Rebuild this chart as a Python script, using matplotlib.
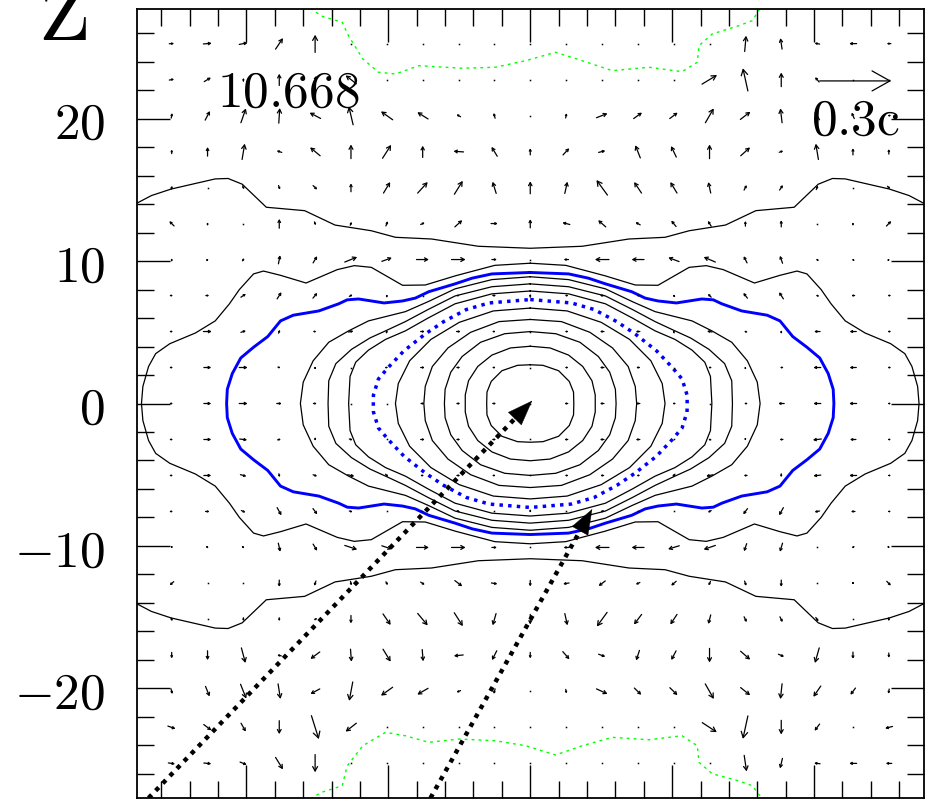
import numpy as np
import matplotlib
matplotlib.use("Agg")
import matplotlib.pyplot as plt

plt.rcParams["mathtext.fontset"] = "cm"

# velocity field on a 21 x 21 grid, rows from top (z = +25.3) to bottom (z = -25.3),
# columns from x = -25.3 to +25.3; components in units of 0.01c
VX = [
    [2.0, 3.5, 3.5, 3.1, 0, 0, 0, 0, 0, 0, 0, 0, 0, 0, 0, 0, 0.6, -0.7, -2.1, -3.1, -1.7],
    [2.0, 2.8, 0, 0, 1.1, -4.5, 0, 0, 0, 0, 0, 0, 0, 0, 0, 6.3, -2.1, 0, -1.7, 0, 0],
    [0.4, 2.0, 2.1, 0.4, -4.6, -1.8, -4.9, -4.5, -1.7, -0.6, 0, 0.4, 4.6, 3.5, 3.3, 3.5, 4.2, -0.7, -2.0, -1.1, -1.1],
    [0, 0, 1.1, -2.1, -4.2, 0, 3.6, 0, -4.2, -2.4, 0, 2.6, 2.8, -2.1, -2.2, 0, 3.9, 1.7, -1.1, 0, 0],
    [0.6, 0, 0.7, 0.6, 1.7, 0, 2.8, 4.2, 3.5, -1.5, 0, 1.1, -4.6, -3.1, -2.8, -1.0, 1.1, 1.4, 0.7, 0, 1.1],
    [-2.0, 0, 0, 0, 0.6, 0.6, 0.8, 1.7, 3.1, 2.8, 0, -3.1, -3.2, -2.0, -2.0, -1.4, 0, 0, 0, 0, 2.0],
    [0, 0.7, 0.8, 0.7, 1.7, 5.2, 4.2, 5.2, 5.9, 2.1, 0, -2.0, -5.9, -5.2, -4.5, -4.9, -1.4, -1.1, -0.8, -0.7, 0.6],
    [1.1, 1.4, 2.1, 1.8, 1.8, 1.4, 0, 0, 0.8, 1.4, 0, -1.1, -1.7, -1.1, -0.8, -1.4, -1.7, -1.8, -1.1, -1.4, -1.1],
    [1.1, 3.5, 2.1, 0.6, 1.1, 2.1, 0.4, 1.7, 1.7, 1.1, 0, -1.1, -1.7, -1.7, -0.4, -2.1, -1.1, 0, -2.5, -2.8, -1.1],
    [1.1, 3.1, 3.5, 1.1, 0, 0, 0.8, 1.7, 1.4, 1.1, 0, -1.1, -1.7, -1.4, 0, -1.1, 0, -1.1, -3.1, -2.8, -1.1],
    [1.1, 3.1, 3.5, 2.1, 1.4, 0, 0, 1.4, 1.4, 1.4, 0, -1.4, -1.7, -1.7, -1.1, 0, -1.1, -2.5, -3.1, -3.1, -0.8],
    [1.1, 3.1, 3.1, 1.4, 0, 1.4, 0, 1.7, 1.4, 1.4, 0, -1.4, -1.7, -1.7, 0, -1.1, 0, -1.4, -3.5, -2.5, -0.8],
    [1.1, 3.1, 2.5, 0.3, 1.7, 2.8, 1.1, 1.1, 1.4, 1.1, 0, -1.1, -1.4, -1.1, -1.1, -2.8, -1.4, 0, -3.1, -3.1, -0.8],
    [1.1, 1.7, 1.7, 1.8, 1.8, 1.4, 0, 0.8, 1.1, 0, 0, 0, -1.1, 0, 0, -1.4, -1.8, -1.8, -2.1, -1.7, -0.8],
    [0, 0.8, 0.8, 0.8, 1.7, 5.2, 4.2, 5.2, 5.9, 2.1, 0, -2.1, -5.9, -5.2, -4.7, -4.9, -1.1, -1.1, -0.6, -0.8, 0.6],
    [-1.7, 0, 0, 0, -0.7, 0.4, 0.8, 1.7, 3.1, 2.5, 0, -2.5, -2.8, -1.7, -2.1, -0.8, 0.7, 0, 0, 0, 1.7],
    [0.6, 0, 0, 0, -1.1, 0, 3.2, 4.2, 3.6, -1.4, 0, 1.1, -4.3, -3.2, -2.8, -1.0, 1.1, 1.1, 1.1, 0, 0],
    [0, 0, 1.7, -1.7, -3.9, 0.4, 3.2, 0.4, -3.9, -2.0, 0, 2.8, 2.8, -1.4, -2.0, 0, 4.0, 2.4, -1.8, 0, 0],
    [0.6, 1.7, 2.4, 1.0, -3.9, -1.5, -4.9, -4.5, -1.7, -0.6, 0.6, 0.3, 4.6, 2.9, 3.2, 3.6, 4.0, -0.7, -3.1, -2.1, -0.3],
    [3.2, 3.2, 2.0, 0, 3.1, -4.5, 0, 0, 0, 0, 0, 0, 0, 0, 0, 6.1, -2.1, 0, -2.1, 0, -3.1],
    [2.8, 3.1, 2.8, 3.1, 0, 0, 0, 0, 0, 0, 0, 0, 0, 0, 0, 0, 1.0, -1.0, -2.5, -3.1, -2.5],
]
VZ = [
    [0.1, 0.3, 0.7, 4.6, 7.4, 0, 0, 0, 0, 0, 0, 0, 0, 0, 0, 0, 6.6, 4.6, 0.4, 0, 0],
    [0.4, 1.7, 1.4, 4.9, 3.1, 3.5, 0, 0, 0, 0, 0, 0, 0, 0, 0, 3.8, 9.5, 5.9, 2.0, 0, 0],
    [2.1, 3.8, 6.0, 6.3, 2.4, 7.7, 3.5, 2.8, 1.0, 2.2, 0, 2.0, 1.8, 2.5, 2.5, 6.0, 3.2, 6.0, 3.5, 2.5, 0],
    [1.7, 3.8, 6.6, 0.7, 3.5, 5.9, 5.6, 4.9, 0.3, 3.9, 2.8, 2.8, 0.7, 5.3, 4.6, 5.9, 3.5, 0.6, 6.6, 2.8, 2.1],
    [1.4, 0, -1.4, -1.7, -1.7, 3.5, 4.6, 4.6, 5.6, 4.9, 5.2, 4.9, 6.3, 4.6, 4.6, 4.6, 2.1, 2.1, 1.7, 0, -1.1],
    [2.0, 1.1, 0, 3.9, -1.4, 1.4, 2.0, 0.8, 2.8, 0, 3.6, 0.8, 2.8, 1.1, 2.5, 2.2, 2.2, 2.8, 0, 1.1, 2.1],
    [1.1, 0.8, 1.1, 3.6, 2.8, 2.1, 1.5, 0, 0, 0, 0, 0, 0, 0, 1.7, 2.1, 2.8, 3.1, 0.8, 0.7, 0.7],
    [0, 0, 1.4, 2.8, 2.2, 0.7, 1.1, 0, 0, 0, 1.4, 0, 0, 0, 0.8, 1.4, 2.2, 2.8, 0.4, 0, 0],
    [0, 0, 0.7, 1.4, 0, 0.4, 1.1, 0, 0, 0, 0, 0, 0, 0, 1.1, 0.4, 0.4, 1.1, 0, 0, 0],
    [0, 0, 0, -0.3, 0.8, 0, 0, 0, 0, 0, 0, 0, 0, 0, 0, 0, 0.8, 0, 0, 0, 0],
    [0, 0, 0, 0, 0, 0, 0, 0, 0, 0, 0, 0, 0, 0, 0, 0, 0, 0, 0, 0, 0],
    [0, 0, -0.4, 0.3, -1.1, -0.4, 0, 0, 0, 0, 0, 0, 0, 0, 0, 0.3, -0.8, 0, -0.4, 0, 0],
    [0, 0, -0.7, -1.4, -0.6, -0.6, -1.1, 0, 0, 0, 0, 0, 0, 0, -1.1, -0.6, 0, -1.4, -0.3, 0, 0],
    [0, 0, -0.8, -3.2, -2.4, -0.4, 0, 0, -0.7, 0, -1.1, 0, -0.7, 0, 0, -0.8, -2.4, -3.2, -0.4, 0, 0],
    [-0.7, -0.8, -0.8, -3.6, -2.8, -1.7, -1.4, 0, 0, 0, 0, 0, 0, 0, -1.4, -1.7, -3.2, -3.6, 0, -0.8, -0.8],
    [-1.5, 0, 0, -2.8, -2.0, -1.7, -1.4, -1.1, -2.4, -0.4, -2.5, -0.4, -2.1, -0.8, -1.8, -1.7, -2.0, -2.8, 0, -0.8, -1.8],
    [-1.4, 0, -1.4, -1.4, -0.6, -3.3, -4.6, -5.0, -5.6, -4.9, -4.2, -4.9, -5.9, -4.2, -4.2, -3.8, -2.2, -2.2, -1.7, 0, -1.4],
    [-2.5, -3.9, -6.3, 0.4, -2.9, -5.2, -5.2, -4.9, -0.4, -3.9, -2.5, -3.2, -1.0, -4.2, -3.8, -5.9, -3.5, -1.0, -6.3, -2.8, -2.0],
    [-2.2, -4.2, -6.0, -6.3, -2.1, -7.9, -3.5, -2.6, -0.7, -2.1, 0, -1.7, -2.1, -2.8, -3.1, -6.3, -3.2, -6.4, -4.5, -2.8, -2.0],
    [-1.1, -2.4, -3.5, -5.6, -9.8, -3.5, 0, 0, 0, 0, 0, 0, 0, 0, 0, -4.0, -9.6, -5.9, -2.8, 0, -0.8],
    [-0.4, -0.3, -1.1, -5.0, -7.4, 0, 0, 0, 0, 0, 0, 0, 0, 0, 0, 0, -6.7, -4.2, 0.3, 0, 0],
]
GRID = np.linspace(-25.27, 25.27, 21)

# density contours, upper-right quarter from the z axis down to the x axis
C1 = [(0, 2.72), (0.9, 2.68), (2.0, 2.3), (2.75, 1.55), (3.05, 0.8), (3.07, 0)]
C2 = [(0, 4.02), (1.4, 3.9), (2.7, 3.4), (3.7, 2.6), (4.35, 1.6), (4.58, 0.6), (4.58, 0)]
C3 = [(0, 5.05), (1.8, 4.9), (3.5, 4.3), (4.8, 3.3), (5.6, 2.2), (6.0, 1.0), (6.05, 0)]
C4 = [(0, 5.9), (2.2, 5.75), (4.2, 5.0), (5.8, 3.9), (6.9, 2.6), (7.4, 1.2), (7.5, 0)]
C5 = [(0, 6.7), (2.6, 6.5), (5.0, 5.7), (7.0, 4.5), (8.5, 3.0), (9.3, 1.4), (9.5, 0)]
C6 = [(0, 7.9), (2.7, 7.7), (5.3, 7.0), (7.2, 6.0), (8.8, 5.1), (10.2, 4.5), (11.4, 3.75),
      (12.3, 2.9), (12.7, 1.9), (12.8, 0)]
C7 = [(0, 8.4), (2.7, 8.2), (5.3, 7.55), (7.2, 6.6), (8.8, 5.75), (10.2, 5.1), (11.3, 4.6),
      (12.6, 3.8), (13.7, 2.8), (14.2, 1.6), (14.25, 0)]
C8 = [(0, 8.9), (2.7, 8.7), (5.3, 8.05), (7.2, 7.15), (8.8, 6.45), (10.0, 6.15), (11.4, 5.8),
      (12.8, 5.1), (14.2, 4.3), (15.3, 3.0), (16.0, 1.5), (16.2, 0)]
C9 = [(0, 9.85), (2.5, 9.7), (5.26, 8.97), (7.4, 8.32), (9.0, 8.3), (11.2, 9.56), (12.4, 9.68),
      (13.6, 9.4), (15.8, 8.46), (17.6, 9.0), (18.8, 9.3), (19.5, 9.1), (20.5, 8.0), (21.2, 7.0),
      (22.2, 5.8), (23.6, 4.95), (25.4, 4.2), (26.4, 3.5), (26.9, 2.6), (27.3, 1.2), (27.4, 0)]
C10 = [(0, 10.9), (3.66, 11.04), (6.95, 11.55), (9.5, 11.67), (11.2, 12.13), (13.76, 12.53),
       (15.9, 13.54), (18.6, 13.78), (20.3, 15.4), (21.3, 15.8), (22.2, 15.77), (25.3, 15.06),
       (26.7, 14.6), (27.75, 14.05)]
BLUE_DOT = [(0, 7.3), (2.9, 7.06), (4.5, 6.6), (6.1, 5.75), (7.4, 4.88), (8.9, 3.7), (10.0, 2.54),
            (10.7, 1.72), (11.05, 0.6), (11.06, 0)]
BLUE_SOLID = [(0, 9.2), (2.7, 9.1), (4.1, 8.8), (5.3, 8.4), (7.15, 7.85), (8.1, 7.4), (9.0, 7.2),
              (10.3, 7.06), (12.1, 7.34), (12.9, 7.28), (13.5, 7.0), (14.9, 6.5), (16.7, 6.2),
              (17.6, 5.8), (18.5, 4.7), (19.5, 3.95), (20.4, 3.2), (21.0, 2.1), (21.35, 1.0), (21.4, 0)]

GREEN_TOP = [(-15.5, 27.75), (-14.7, 27.2), (-13.25, 26.77), (-12.8, 25.8), (-11.8, 24.2),
             (-10.7, 23.26), (-9.5, 23.14), (-7.85, 23.72), (-4.79, 23.54), (-2.45, 23.61),
             (-0.33, 24.07), (1.78, 24.66), (3.66, 24.07), (5.78, 23.37), (8.36, 23.61),
             (10.7, 23.3), (11.77, 23.96), (11.9, 25.13), (12.83, 25.95), (14.7, 26.53),
             (15.65, 26.88), (16.2, 27.75)]
GREEN_BOT = [(-15.5, -27.75), (-14.7, -27.3), (-13.25, -26.84), (-12.9, -25.44), (-11.8, -24.03),
             (-10.2, -23.09), (-8.8, -23.33), (-7.15, -23.79), (-5.03, -23.56), (-2.45, -23.68),
             (-0.33, -24.03), (1.78, -24.68), (3.66, -24.03), (5.78, -23.44), (8.36, -23.61),
             (10.7, -23.33), (11.77, -24.03), (11.9, -25.2), (12.83, -26.0), (14.7, -26.5),
             (15.65, -26.84), (16.35, -27.75)]

# dotted trajectories: start and end points
PATH_TAILS = [(-26.9, -27.7), (-7.03, -27.7)]
PATH_TIPS = [(0.14, 0.2), (4.37, -7.41)]

TIME_LABEL = "10.668"
KEY_SPEED = 0.3      # c
KEY_TAIL = (20.4, 22.65)

VEL_SCALE = 16.8     # data units per c
PX_PER_UNIT = 14.2
LIM = 27.75


def closed_loop(quad):
    ur = list(quad)
    lr = [(x, -z) for x, z in reversed(quad)]
    ll = [(-x, -z) for x, z in quad]
    ul = [(-x, z) for x, z in reversed(quad)]
    pts = ur + lr[1:] + ll[1:] + ul[1:]
    return np.array(pts).T


def open_pair(quad):
    upper = [(-x, z) for x, z in reversed(quad)] + list(quad)[1:]
    upper = np.array(upper).T
    return upper, upper * np.array([[1], [-1]])


def vec(ax, x0, z0, x1, z1, lw=0.9):
    L = np.hypot(x1 - x0, z1 - z0) * PX_PER_UNIT * 0.72
    if L < 1.2:
        ax.plot([(x0 + x1) / 2], [(z0 + z1) / 2], marker="s", ms=1.1, color="k", mew=0)
        return
    ax.annotate("", xy=(x1, z1), xytext=(x0, z0),
                arrowprops=dict(arrowstyle="->,head_length=0.25,head_width=0.14",
                                lw=lw, color="k", shrinkA=0, shrinkB=0,
                                mutation_scale=L))


fig = plt.figure(figsize=(9.26, 8.03), dpi=100)
ax = fig.add_axes([136.5 / 926, 4 / 803, 787.5 / 926, 789 / 803])
ax.set_xlim(-LIM, LIM)
ax.set_ylim(-27.7, 27.7)

for q in (C1, C2, C3, C4, C5, C6, C7, C8, C9):
    xs, zs = closed_loop(q)
    ax.plot(xs, zs, color="k", lw=0.9)
for part in open_pair(C10):
    ax.plot(part[0], part[1], color="k", lw=0.9)

xs, zs = closed_loop(BLUE_SOLID)
ax.plot(xs, zs, color="#0000ff", lw=2.1)
xs, zs = closed_loop(BLUE_DOT)
ax.plot(xs, zs, color="#0000ff", lw=2.5, ls=(0, (1, 1.5)))

for g in (GREEN_TOP, GREEN_BOT):
    g = np.array(g).T
    ax.plot(g[0], g[1], color="#00ff00", lw=1.0, ls=(0, (2, 3)))

# velocity arrows, centred on the grid points
vx = np.array(VX)[::-1] / 100 * VEL_SCALE
vz = np.array(VZ)[::-1] / 100 * VEL_SCALE
for i, z in enumerate(GRID):
    for j, x in enumerate(GRID):
        dx, dz = vx[i, j], vz[i, j]
        vec(ax, x - dx / 2, z - dz / 2, x + dx / 2, z + dz / 2)

# key arrow
kx, kz = KEY_TAIL
vec(ax, kx, kz, kx + KEY_SPEED * VEL_SCALE, kz, lw=0.9)
ax.text(19.8, 18.93, r"$0.3\mathrm{c}$", fontsize=37, ha="left", va="baseline")
ax.text(-22.1, 20.9, r"$%s$" % TIME_LABEL, fontsize=37, ha="left", va="baseline")

# dotted trajectories with filled heads
for (x0, z0), (x1, z1) in zip(PATH_TAILS, PATH_TIPS):
    d = np.hypot(x1 - x0, z1 - z0)
    ux, uz = (x1 - x0) / d, (z1 - z0) / d
    ax.plot([x0, x1 - 1.0 * ux], [z0, z1 - 1.0 * uz], color="k", lw=3.2,
            ls=(0, (1, 1.3)), clip_on=True)
    ax.annotate("", xy=(x1, z1), xytext=(x1 - 1.8 * ux, z1 - 1.8 * uz),
                arrowprops=dict(arrowstyle="-|>,head_length=1.35,head_width=0.5",
                                color="k", lw=0.3, shrinkA=0, shrinkB=0,
                                mutation_scale=13))

ax.set_xticks([-20, -10, 0, 10, 20])
ax.set_yticks([-20, -10, 0, 10, 20],
              labels=[r"$-20$", r"$-10$", r"$0$", r"$10$", r"$20$"])
ax.set_xticks(np.arange(-26, 27, 2), minor=True)
ax.set_yticks(np.arange(-26, 27, 2), minor=True)
ax.tick_params(which="both", direction="in", top=True, right=True, width=1.0, color="k")
ax.tick_params(which="major", length=24)
ax.tick_params(which="minor", length=12)
ax.tick_params(axis="x", labelbottom=False)
ax.tick_params(axis="y", labelsize=37, pad=22.7)
for s in ax.spines.values():
    s.set_linewidth(1.3)

fig.text(38 / 926, 1 - 39.5 / 803, r"$\mathrm{Z}$", fontsize=61, ha="left", va="baseline")

fig.savefig("out.png", dpi=100)
